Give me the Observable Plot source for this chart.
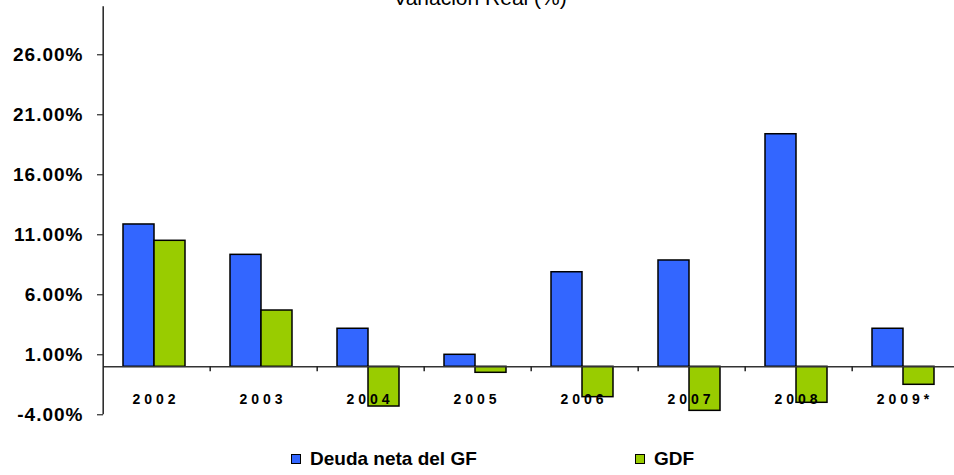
<!DOCTYPE html>
<html>
<head>
<meta charset="utf-8">
<script src="https://cdn.jsdelivr.net/npm/d3@7"></script>
<script src="https://cdn.jsdelivr.net/npm/@observablehq/plot@0.6"></script>
<style>
  html, body { margin: 0; padding: 0; background: #fff; overflow: hidden; }
  body { width: 954px; height: 475px; position: relative; font-family: "Liberation Sans", Arial, sans-serif; }
  #title { position: absolute; left: 0; top: -13px; width: 960px; text-align: center; font-size: 21px; line-height: 21px; color: #000; }
  #chart { position: absolute; left: 0; top: 0; }
  #legend { position: absolute; left: 0; top: 448px; width: 954px; height: 22px; font-weight: bold; font-size: 19px; color: #000; }
  .item { position: absolute; top: 0; display: flex; align-items: center; }
  .sw { width: 8px; height: 8px; border: 1.5px solid #000; margin-right: 9px; }
</style>
</head>
<body>
<div id="title">Variación Real (%)</div>
<div id="chart"></div>
<div id="legend"></div>
<script>
const years = ["2002", "2003", "2004", "2005", "2006", "2007", "2008", "2009*"];
const series = ["Deuda neta del GF", "GDF"];
const deuda = [11.86, 9.33, 3.17, 1.0, 7.88, 8.86, 19.38, 3.17];
const gdf = [10.5, 4.69, -3.31, -0.5, -2.53, -3.67, -3.0, -1.5];
const colors = ["#3366FF", "#99CC00"];
const yTicks = [-4, 1, 6, 11, 16, 21, 26];

const data = [];
years.forEach((y, i) => {
  data.push({year: y, series: series[0], value: deuda[i]});
  data.push({year: y, series: series[1], value: gdf[i]});
});

const W = 954, left = 100, rightEdge = 961;
const bw = (rightEdge - left) / years.length;

const chart = Plot.plot({
  width: W,
  height: 430,
  marginLeft: left,
  marginRight: W - rightEdge,
  marginTop: 6.3,
  marginBottom: 15.7,
  style: {fontFamily: "'Liberation Sans', Arial, sans-serif", fontSize: "19px", fontWeight: "bold", color: "#000", background: "transparent", overflow: "visible"},
  fx: {domain: years, padding: 0, axis: null},
  x: {domain: series, paddingInner: 0, paddingOuter: 0.72, align: 0.44, axis: null},
  y: {domain: [-4, 30], ticks: yTicks, tickFormat: d => d.toFixed(2) + "%", tickSize: 6, tickPadding: 14, label: null},
  color: {domain: series, range: colors},
  marks: [
    Plot.barY(data, {fx: "year", x: "series", y: "value", fill: "series", stroke: "#000", strokeWidth: 1.5}),
    Plot.ruleY([0], {stroke: "#333", strokeWidth: 1.5}),
    Plot.ruleX(years.slice(1), {fx: d => d, x: null, y1: 0, y2: -0.42, dx: -bw / 2, stroke: "#222", strokeWidth: 1.5}),
    Plot.ruleX(years.slice(0, 1), {fx: d => d, x: null, y1: -4, y2: 30, dx: -bw / 2, stroke: "#222", strokeWidth: 1.5}),
    Plot.text(years, {fx: d => d, text: d => d, frameAnchor: "bottom", dy: -11, dx: -1, fontSize: 14, fontWeight: "bold", fill: "#000"})
  ]
});
document.getElementById("chart").appendChild(chart);

d3.select(chart).selectAll("text")
  .filter(function () { return years.includes(this.textContent); })
  .attr("letter-spacing", "4px");
d3.select(chart).selectAll("text")
  .filter(function () { return /%$/.test(this.textContent); })
  .attr("letter-spacing", "1px");

const legend = document.getElementById("legend");
const legendX = [291, 635];
series.forEach((s, i) => {
  const item = document.createElement("div");
  item.className = "item";
  item.style.left = legendX[i] + "px";
  const sw = document.createElement("div");
  sw.className = "sw";
  sw.style.background = colors[i];
  const t = document.createElement("span");
  t.textContent = s;
  item.appendChild(sw);
  item.appendChild(t);
  legend.appendChild(item);
});
</script>
</body>
</html>
